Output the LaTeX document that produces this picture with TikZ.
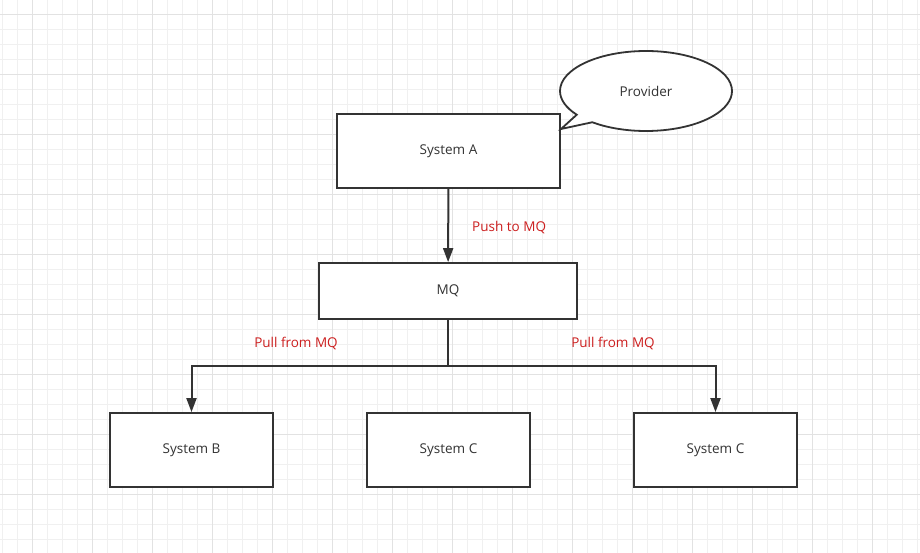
\documentclass[tikz,border=0pt]{standalone}
\usepackage{fontspec}
\setmainfont{Open Sans}
\usetikzlibrary{arrows.meta,positioning,shapes.callouts}

\definecolor{ink}{HTML}{333333}
\definecolor{labelred}{HTML}{CC1F1F}
\definecolor{gridminor}{HTML}{F0F0F0}
\definecolor{gridmajor}{HTML}{E2E2E2}

\begin{document}
\begin{tikzpicture}[x=1pt, y=-1pt, >={Triangle[length=14pt,width=10pt]}, line width=1.8pt, font=\fontsize{13.5}{15}\selectfont]
    \tikzset{box/.style={draw=ink, fill=white, text=ink, minimum width=#1, inner sep=0pt},
             flow/.style={->, draw=ink, line width=2pt},
             tag/.style={text=labelred, inner sep=0pt}}
    \useasboundingbox (0,0) rectangle (920,553);
    \fill[white] (0,0) rectangle (920,553);
    % background grid
    \foreach \x in {2,17,...,917} \draw[gridminor, line width=0.8pt] (\x,0) -- (\x,553);
    \foreach \y in {14,29,...,553} \draw[gridminor, line width=0.8pt] (0,\y) -- (920,\y);
    \foreach \x in {32,92,...,917} \draw[gridmajor, line width=0.8pt] (\x,0) -- (\x,553);
    \foreach \y in {14,74,...,553} \draw[gridmajor, line width=0.8pt] (0,\y) -- (920,\y);

    \node[box=223pt, minimum height=74pt] (sysA) at (448.5,151) {System A};
    \node[ellipse callout, draw=ink, fill=white, text=ink, minimum width=172pt, minimum height=80pt, inner sep=0pt,
          callout absolute pointer={(561,129)}] (provider) at (646,91) {Provider};
    \node[box=258pt, minimum height=56pt] (mq) at (448,291) {MQ};
    \node[box=163pt, minimum height=74pt] (sysB) at (191.5,450) {System B};
    \node[box=163pt, minimum height=74pt] (sysC) at (448.5,450) {System C};
    \node[box=163pt, minimum height=74pt] (sysD) at (715.5,450) {System C};
    \coordinate (split) at (448,365.5);

    \draw[flow] (sysA) -- node[tag, right=23pt, yshift=-2pt] {Push to MQ} (mq);
    \draw[flow] (mq) -- (split) -| (sysB.north);
    \draw[flow] (split) -| (sysD.north);
    \node[tag] (pullB) at (296,343) {Pull from MQ};
    \node[tag] (pullD) at (613,343) {Pull from MQ};
\end{tikzpicture}
\end{document}
